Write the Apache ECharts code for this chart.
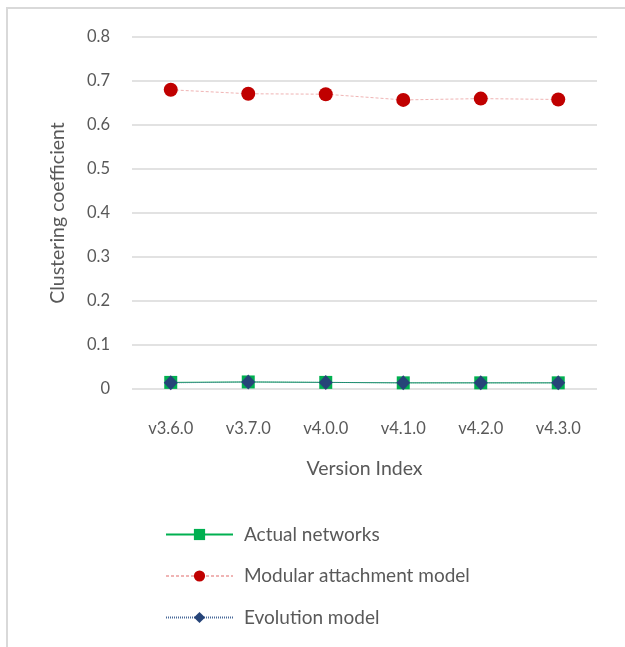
<!DOCTYPE html>
<html>
<head>
<meta charset="utf-8">
<script src="https://cdn.jsdelivr.net/npm/echarts@6/dist/echarts.min.js"></script>
<style>
  html, body { margin: 0; padding: 0; background: #fff; }
  #chart { width: 625px; height: 647px; }
</style>
</head>
<body>
<div id="chart"></div>
<script>
// Clustering coefficient per release
const versions = ['v3.6.0', 'v3.7.0', 'v4.0.0', 'v4.1.0', 'v4.2.0', 'v4.3.0'];
const actualNetworks = [0.015, 0.016, 0.015, 0.014, 0.014, 0.014];
const modularAttachment = [0.680, 0.671, 0.670, 0.657, 0.660, 0.658];
const evolutionModel = [0.014, 0.016, 0.015, 0.014, 0.014, 0.014];
const yTicks = [0, 0.1, 0.2, 0.3, 0.4, 0.5, 0.6, 0.7, 0.8];

const FONT = 'Lato, "Open Sans", sans-serif';
const TEXT = '#595959';

const chart = echarts.init(document.getElementById('chart'), null, { renderer: 'canvas' });

chart.setOption({
  backgroundColor: '#ffffff',
  animation: false,
  graphic: [{
    type: 'rect',
    shape: { x: 7, y: 8, width: 700, height: 700 },
    style: { fill: 'none', stroke: '#d9d9d9', lineWidth: 2 },
    silent: true
  }],
  grid: { left: 132, right: 28, top: 37, bottom: 258 },
  xAxis: {
    type: 'category',
    data: versions,
    boundaryGap: true,
    name: 'Version Index',
    nameLocation: 'middle',
    nameGap: 70,
    nameTextStyle: { fontFamily: FONT, fontSize: 19.5, color: TEXT },
    axisLine: { show: false },
    axisTick: { show: false },
    axisLabel: { fontFamily: FONT, fontSize: 16.5, color: TEXT, margin: 31 }
  },
  yAxis: {
    type: 'value',
    min: yTicks[0],
    max: yTicks[yTicks.length - 1],
    interval: 0.1,
    name: 'Clustering coefficient',
    nameLocation: 'middle',
    nameGap: 64,
    nameTextStyle: { fontFamily: FONT, fontSize: 19.5, color: TEXT },
    axisLine: { show: false },
    axisTick: { show: false },
    axisLabel: {
      fontFamily: FONT, fontSize: 16.5, color: TEXT, margin: 22,
      formatter: v => String(Math.round(v * 10) / 10)
    },
    splitLine: { lineStyle: { color: '#d9d9d9', width: 1.5 } }
  },
  legend: {
    orient: 'vertical',
    left: 160,
    top: 520,
    itemWidth: 67,
    itemHeight: 14,
    itemGap: 22.5,
    textStyle: { fontFamily: FONT, fontSize: 19, color: TEXT, padding: [0, 0, 0, 6] },
    data: ['Actual networks', 'Modular attachment model', 'Evolution model']
  },
  series: [
    {
      name: 'Actual networks',
      type: 'line',
      data: actualNetworks,
      symbol: 'rect',
      symbolSize: 13,
      itemStyle: { color: '#00b050' },
      lineStyle: { color: '#00b050', width: 1 },
      z: 2
    },
    {
      name: 'Modular attachment model',
      type: 'line',
      data: modularAttachment,
      symbol: 'circle',
      symbolSize: 14,
      itemStyle: { color: '#c00000' },
      lineStyle: { color: '#f0b4b4', width: 1, type: [3, 2] },
      z: 3
    },
    {
      name: 'Evolution model',
      type: 'line',
      data: evolutionModel,
      symbol: 'diamond',
      symbolSize: [14, 15],
      itemStyle: { color: '#264478' },
      lineStyle: { color: '#4a6a9a', width: 1, type: [1, 1] },
      z: 4
    }
  ]
});
</script>
</body>
</html>
